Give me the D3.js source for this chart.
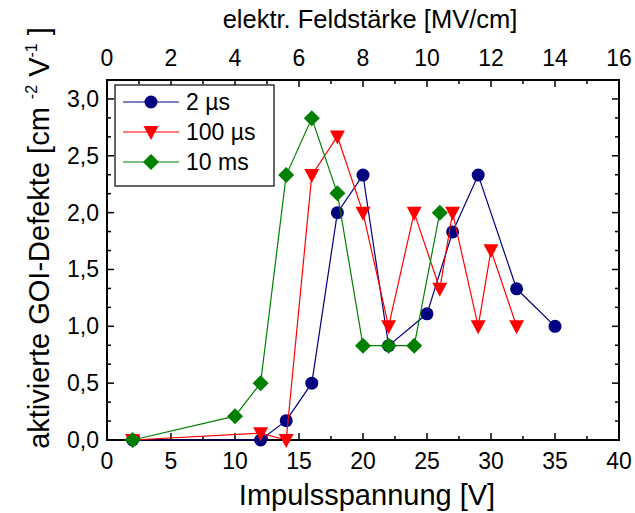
<!DOCTYPE html>
<html>
<head>
<meta charset="utf-8">
<script src="https://cdn.jsdelivr.net/npm/d3@7"></script>
<style>
  body { margin:0; background:#fff; }
  text { font-family: "Liberation Sans", Arial, sans-serif; fill:#000; }
</style>
</head>
<body>
<div id="chart"></div>
<script>
// data
var volts2us   = [2, 12, 14, 16, 18, 20, 22, 25, 27, 29, 32, 35];
var defects2us = [0, 0, 0.17, 0.5, 2.0, 2.33, 0.83, 1.11, 1.83, 2.33, 1.33, 1.0];

var volts100us   = [2, 12, 14, 16, 18, 20, 22, 24, 26, 27, 29, 30, 32];
var defects100us = [0, 0.06, 0, 2.33, 2.67, 2.0, 1.0, 2.0, 1.33, 2.0, 1.0, 1.67, 1.0];

var volts10ms   = [2, 10, 12, 14, 16, 18, 20, 22, 24, 26];
var defects10ms = [0, 0.21, 0.5, 2.33, 2.83, 2.17, 0.83, 0.83, 0.83, 2.0];

var seriesNames = ['2 µs', '100 µs', '10 ms'];
var seriesColors = ['#000080', '#ff0000', '#008000'];
var seriesShapes = ['circle', 'triangle', 'diamond'];

var xTicks = [0, 5, 10, 15, 20, 25, 30, 35, 40];
var yTicks = [0, 0.5, 1.0, 1.5, 2.0, 2.5, 3.0];
var topTicks = [0, 2, 4, 6, 8, 10, 12, 14, 16];

var width = 635, height = 513;
var margin = {left:107, right:16, top:80, bottom:73};

var svg = d3.select('#chart').append('svg')
  .attr('width', width).attr('height', height);

var x = d3.scaleLinear().domain([0, 40]).range([margin.left, width - margin.right]);
var xTop = d3.scaleLinear().domain([0, 16]).range([margin.left, width - margin.right]);
var y = d3.scaleLinear().domain([0, 3 + 1/6]).range([height - margin.bottom, margin.top]);

var comma = function(d){ return d3.format('.1f')(d).replace('.', ','); };

var majorLen = 7, minorLen = 4;

// frame
svg.append('rect')
  .attr('x', x(0)).attr('y', y.range()[1])
  .attr('width', x(40) - x(0)).attr('height', y.range()[0] - y.range()[1])
  .attr('fill', 'none').attr('stroke', '#000').attr('stroke-width', 2);

var ticks = svg.append('g').attr('stroke', '#000').attr('stroke-width', 1.5);

// bottom + top ticks
d3.range(0, 40.01, 2.5).forEach(function(v){
  var len = (v % 5 === 0) ? majorLen : minorLen;
  ticks.append('line').attr('x1', x(v)).attr('x2', x(v))
    .attr('y1', y(0)).attr('y2', y(0) - len);
});
d3.range(0, 16.01, 1).forEach(function(v){
  var len = (v % 2 === 0) ? majorLen : minorLen;
  ticks.append('line').attr('x1', xTop(v)).attr('x2', xTop(v))
    .attr('y1', margin.top).attr('y2', margin.top + len);
});
// left + right ticks
d3.range(0, 19).forEach(function(i){
  var v = i / 6;
  var len = (i % 3 === 0) ? majorLen : minorLen;
  ticks.append('line').attr('x1', x(0)).attr('x2', x(0) + len)
    .attr('y1', y(v)).attr('y2', y(v));
  ticks.append('line').attr('x1', x(40)).attr('x2', x(40) - len)
    .attr('y1', y(v)).attr('y2', y(v));
});

// tick labels
svg.append('g').selectAll('text').data(xTicks).enter().append('text')
  .attr('x', function(d){ return x(d); }).attr('y', y(0) + 29)
  .attr('text-anchor', 'middle').attr('font-size', 23)
  .text(function(d){ return d; });

svg.append('g').selectAll('text').data(topTicks).enter().append('text')
  .attr('x', function(d){ return xTop(d); }).attr('y', margin.top - 14)
  .attr('text-anchor', 'middle').attr('font-size', 23)
  .text(function(d){ return d; });

svg.append('g').selectAll('text').data(yTicks).enter().append('text')
  .attr('x', x(0) - 8).attr('y', function(d){ return y(d) + 8; })
  .attr('text-anchor', 'end').attr('font-size', 23)
  .text(comma);

// axis titles
svg.append('text')
  .attr('x', x(20) + 4).attr('y', 505)
  .attr('text-anchor', 'middle').attr('font-size', 29)
  .text('Impulsspannung [V]');

svg.append('text')
  .attr('x', 370).attr('y', 28)
  .attr('text-anchor', 'middle').attr('font-size', 25.5)
  .text('elektr. Feldstärke [MV/cm]');

var yTitle = svg.append('text')
  .attr('transform', 'translate(49,' + 238 + ') rotate(-90)')
  .attr('text-anchor', 'middle').attr('font-size', 29);
yTitle.append('tspan').text('aktivierte GOI-Defekte [cm  ');
yTitle.append('tspan').attr('font-size', 16).attr('dy', -12).text('-2');
yTitle.append('tspan').attr('dy', 12).text(' V');
yTitle.append('tspan').attr('font-size', 16).attr('dy', -12).text('-1');
yTitle.append('tspan').attr('dy', 12).text(' ]');

// markers
function marker(g, shape, color, cx, cy){
  if (shape === 'circle') {
    g.append('circle').attr('cx', cx).attr('cy', cy).attr('r', 6.5).attr('fill', color);
  } else if (shape === 'triangle') {
    g.append('path').attr('d', 'M' + (cx - 7.5) + ',' + (cy - 6) + 'L' + (cx + 7.5) + ',' + (cy - 6) + 'L' + cx + ',' + (cy + 8) + 'Z')
      .attr('fill', color);
  } else {
    g.append('path').attr('d', 'M' + cx + ',' + (cy - 8) + 'L' + (cx + 8) + ',' + cy + 'L' + cx + ',' + (cy + 8) + 'L' + (cx - 8) + ',' + cy + 'Z')
      .attr('fill', color);
  }
}

var allX = [volts2us, volts100us, volts10ms];
var allY = [defects2us, defects100us, defects10ms];

var line = d3.line().x(function(d){ return x(d[0]); }).y(function(d){ return y(d[1]); });

allX.forEach(function(xs, s){
  var pts = xs.map(function(v, i){ return [v, allY[s][i]]; });
  var g = svg.append('g');
  g.append('path').attr('d', line(pts))
    .attr('fill', 'none').attr('stroke', seriesColors[s]).attr('stroke-width', 1.2);
  pts.forEach(function(p){
    marker(g, seriesShapes[s], seriesColors[s], x(p[0]), y(p[1]));
  });
});

// legend
var legend = svg.append('g');
legend.append('rect')
  .attr('x', 115).attr('y', 85).attr('width', 159).attr('height', 101)
  .attr('fill', '#fff').attr('stroke', '#000').attr('stroke-width', 1.2);
seriesNames.forEach(function(name, i){
  var ly = 102 + i * 30;
  legend.append('line').attr('x1', 123).attr('x2', 179).attr('y1', ly).attr('y2', ly)
    .attr('stroke', seriesColors[i]).attr('stroke-width', 1.2);
  marker(legend, seriesShapes[i], seriesColors[i], 151, ly);
  legend.append('text').attr('x', 186).attr('y', ly + 8)
    .attr('font-size', 23).text(name);
});
</script>
</body>
</html>
